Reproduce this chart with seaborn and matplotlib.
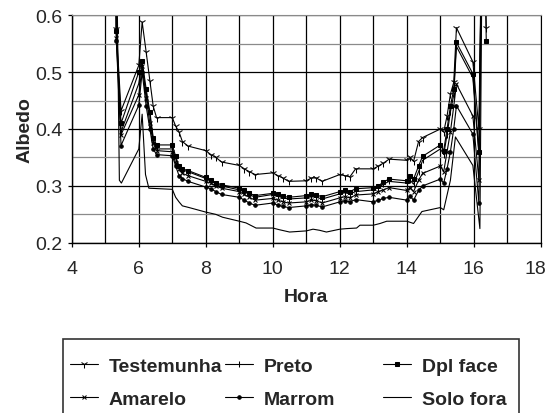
import matplotlib
matplotlib.use("Agg")
import pandas as pd
import matplotlib.pyplot as plt
import seaborn as sns
from matplotlib.patches import Rectangle
from matplotlib.ticker import MultipleLocator, FormatStrFormatter, FixedLocator, FixedFormatter
from matplotlib.transforms import ScaledTranslation, blended_transform_factory

# hours of the day (treated plots)
hora = [5.30, 5.33, 5.47, 6.00, 6.10, 6.22, 6.33, 6.43, 6.53, 7.00, 7.10, 7.20,
        7.30, 7.47, 8.00, 8.15, 8.30, 8.47, 9.00, 9.15, 9.30, 9.47, 10.00, 10.15,
        10.30, 10.47, 11.00, 11.15, 11.30, 11.47, 12.00, 12.15, 12.30, 12.47, 13.00,
        13.15, 13.30, 13.47, 14.00, 14.10, 14.20, 14.35, 14.47, 15.00, 15.10, 15.20,
        15.30, 15.40, 15.48, 15.97, 16.15, 16.27, 16.37]

testemunha = [0.90, 0.575, 0.432, 0.512, 0.588, 0.535, 0.485, 0.440, 0.420, 0.420, 0.405, 0.395,
              0.378, 0.370, 0.362, 0.355, 0.350, 0.342, 0.336, 0.330, 0.325, 0.320, 0.323, 0.318,
              0.314, 0.308, 0.309, 0.314, 0.314, 0.308, 0.320, 0.318, 0.316, 0.330, 0.330,
              0.335, 0.340, 0.347, 0.345, 0.350, 0.343, 0.378, 0.385, 0.400, 0.395, 0.423,
              0.461, 0.482, 0.578, 0.518, 0.400, 0.90, 0.578]
preto = [0.90, 0.570, 0.395, 0.480, 0.515, 0.460, 0.425, 0.380, 0.365, 0.365, 0.348, 0.332,
         0.328, 0.325, 0.313, 0.308, 0.304, 0.300, 0.293, 0.290, 0.285, 0.280, 0.285, 0.282,
         0.279, 0.277, 0.279, 0.281, 0.280, 0.277, 0.286, 0.288, 0.286, 0.290, 0.293,
         0.297, 0.303, 0.308, 0.305, 0.310, 0.303, 0.325, 0.345, 0.365, 0.355, 0.390,
         0.430, 0.460, 0.545, 0.490, 0.355, 0.90, 0.70]
dpl_face = [0.90, 0.572, 0.410, 0.500, 0.520, 0.470, 0.430, 0.385, 0.372, 0.372, 0.352, 0.335,
            0.330, 0.327, 0.315, 0.310, 0.306, 0.302, 0.296, 0.292, 0.287, 0.283, 0.287, 0.285,
            0.282, 0.280, 0.283, 0.285, 0.284, 0.281, 0.290, 0.292, 0.290, 0.295, 0.297,
            0.300, 0.307, 0.312, 0.309, 0.318, 0.312, 0.335, 0.352, 0.372, 0.362, 0.400,
            0.440, 0.470, 0.552, 0.497, 0.360, 0.90, 0.555]
amarelo = [0.90, 0.560, 0.390, 0.460, 0.510, 0.455, 0.410, 0.375, 0.362, 0.360, 0.340, 0.330,
           0.322, 0.318, 0.308, 0.305, 0.300, 0.296, 0.290, 0.285, 0.280, 0.275, 0.278, 0.275,
           0.272, 0.270, 0.272, 0.275, 0.274, 0.270, 0.279, 0.281, 0.279, 0.284, 0.286,
           0.290, 0.293, 0.297, 0.292, 0.297, 0.290, 0.310, 0.322, 0.335, 0.325, 0.360,
           0.395, 0.440, 0.479, 0.423, 0.310, 0.90, 0.75]
marrom = [0.90, 0.555, 0.371, 0.442, 0.500, 0.440, 0.400, 0.365, 0.355, 0.353, 0.335, 0.318,
          0.313, 0.308, 0.298, 0.295, 0.290, 0.285, 0.280, 0.275, 0.270, 0.266, 0.270, 0.266,
          0.264, 0.262, 0.265, 0.267, 0.266, 0.263, 0.272, 0.274, 0.272, 0.276, 0.272,
          0.275, 0.278, 0.280, 0.275, 0.282, 0.275, 0.292, 0.300, 0.312, 0.305, 0.330,
          0.360, 0.400, 0.441, 0.391, 0.270, 0.90, 0.80]

# bare soil, own time base
hora_solo = [5.30, 5.42, 5.48, 6.00, 6.10, 6.20, 6.30, 7.00, 7.10, 7.20, 7.30, 7.50, 8.00,
             8.30, 8.50, 9.00, 9.20, 9.50, 10.00, 10.20, 10.50, 11.00, 11.20, 11.40, 11.60,
             12.00, 12.20, 12.50, 12.60, 13.00, 13.20, 13.40, 14.00, 14.20, 14.45, 15.00,
             15.10, 15.30, 15.45, 15.97, 16.18, 16.27]
solo_fora = [0.90, 0.310, 0.305, 0.365, 0.426, 0.320, 0.296, 0.294, 0.280, 0.272, 0.265, 0.262, 0.254,
             0.250, 0.245, 0.238, 0.235, 0.226, 0.226, 0.223, 0.219, 0.221, 0.224, 0.222, 0.219,
             0.224, 0.225, 0.226, 0.231, 0.231, 0.234, 0.238, 0.238, 0.234, 0.255, 0.262,
             0.258, 0.310, 0.386, 0.336, 0.225, 0.90]

x_ticks = [4, 6, 8, 10, 12, 14, 16, 18]
x_tick_labels = ["4", "6", "8", "10", "12", "14", "16", "18"]

sns.set_style("white")
plt.rcParams['font.family'] = ['Liberation Sans', 'DejaVu Sans']

fig = plt.figure(figsize=(5.48, 4.14), dpi=100)
ax = fig.add_axes([0.131, 0.411, 0.856, 0.550])

series = [
    ("Testemunha", hora, testemunha, "1", 6),
    ("Amarelo", hora, amarelo, "x", 3),
    ("Preto", hora, preto, "|", 4),
    ("Marrom", hora, marrom, "o", 2.5),
    ("Dpl face", hora, dpl_face, "s", 2.5),
    ("Solo fora", hora_solo, solo_fora, "", 0),
]
for name, xs, ys, mk, ms in series:
    sns.lineplot(x=xs, y=ys, ax=ax, color="black", lw=0.8, marker=mk if mk else None,
                 markersize=ms, mec="black", mfc="black", estimator=None, sort=False,
                 label=name)

ax.set_xlim(4, 18)
ax.set_ylim(0.2, 0.6)
ax.xaxis.set_major_locator(FixedLocator(x_ticks))
# last label is drawn separately (pulled in from the figure edge)
ax.xaxis.set_major_formatter(FixedFormatter(x_tick_labels[:-1] + [""]))
ax.xaxis.set_minor_locator(MultipleLocator(1))
ax.yaxis.set_major_locator(MultipleLocator(0.1))
ax.yaxis.set_minor_locator(MultipleLocator(0.05))
ax.yaxis.set_major_formatter(FormatStrFormatter("%.1f"))
ax.grid(True, which="major", color="black", lw=0.9)
ax.grid(True, which="minor", axis="x", color="black", lw=0.9)
ax.grid(True, which="minor", axis="y", color="#8a8a8a", lw=0.9)
ax.set_axisbelow(True)
ax.tick_params(axis="both", which="major", labelsize=14, direction="out", length=3,
               width=0.9, color="black", left=True, bottom=True)
ax.tick_params(axis="x", which="major", pad=9)
for s in ["left", "bottom"]:
    ax.spines[s].set_color("black")
    ax.spines[s].set_linewidth(1)
ax.spines["top"].set_color("#8a8a8a")
ax.spines["right"].set_color("black")

trans = blended_transform_factory(ax.transData, ax.transAxes) + \
    ScaledTranslation(-6 / 100, -12 / 72, fig.dpi_scale_trans)
ax.text(x_ticks[-1], 0, x_tick_labels[-1], transform=trans, ha="center", va="top",
        fontsize=14)

ax.set_xlabel("Hora", fontsize=14, fontweight="bold", labelpad=8)
ax.set_ylabel("Albedo", fontsize=14, fontweight="bold")
ax.yaxis.set_label_coords(-0.082, 0.5)

handles, labels = ax.get_legend_handles_labels()
ax.get_legend().remove()
lookup = dict(zip(labels, handles))

columns = [(["Testemunha", "Amarelo"], 0.1277),
           (["Preto", "Marrom"], 0.4106),
           (["Dpl face", "Solo fora"], 0.699)]
for names, xpos in columns:
    fig.legend([lookup[n] for n in names], names, loc="center left",
               bbox_to_anchor=(xpos, 0.0735), frameon=False, borderpad=0,
               borderaxespad=0, handlelength=1.45, handletextpad=0.55, labelspacing=0.8,
               prop={"weight": "bold", "size": 14})

fig.patches.append(Rectangle((63 / 548, -0.05), (519 - 63) / 548, 0.05 + (414 - 340) / 414,
                             transform=fig.transFigure, fill=False, ec="#333333", lw=1.2))

plt.savefig("out.png", dpi=100)
